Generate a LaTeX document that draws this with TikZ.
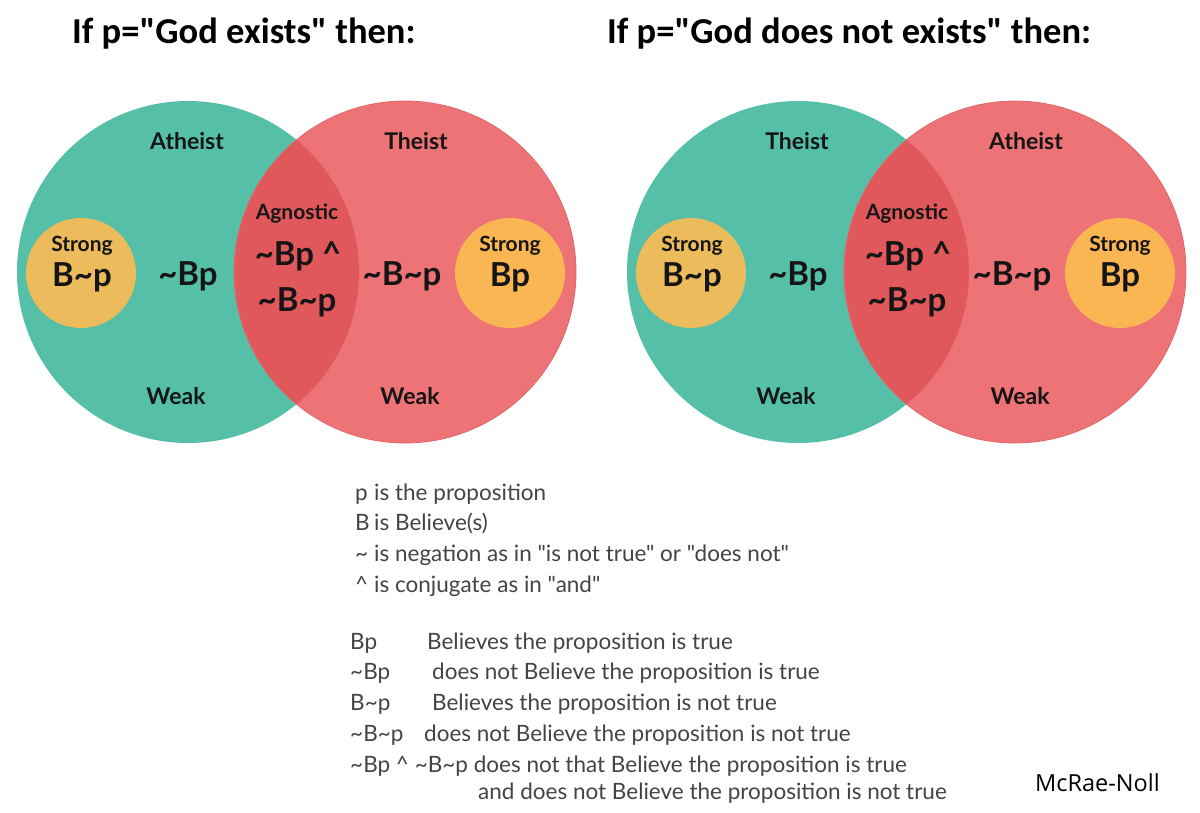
\documentclass[tikz,border=0pt]{standalone}
\usepackage{fontspec}
\setmainfont{Lato}[Ligatures=TeXOff]
\newfontfamily\titlefont{Carlito}[Ligatures=TeXOff]
\newfontfamily\signfont{Open Sans}
\newcommand\tld{\textasciitilde}
\newcommand\crt{\textasciicircum}
\definecolor{teal0}{HTML}{55BFA8}
\definecolor{red0}{HTML}{EE7376}
\definecolor{red1}{HTML}{E0585C}
\definecolor{redline}{HTML}{E2676A}
\definecolor{gold1}{HTML}{ECBB5B}
\definecolor{gold2}{HTML}{FBB654}
\definecolor{ink}{HTML}{151515}
\definecolor{legc}{HTML}{444444}
\tikzset{
  lbl/.style={font=\bfseries\fontsize{23}{27}\selectfont, text=ink, inner sep=0pt},
  sml/.style={font=\bfseries\fontsize{21}{25}\selectfont, text=ink, inner sep=0pt},
  big/.style={font=\bfseries\fontsize{33}{38}\selectfont, text=ink, inner sep=0pt},
  leg/.style={font=\fontsize{22.5}{26}\selectfont, text=legc, anchor=base west, inner sep=0pt},
  ttl/.style={font=\titlefont\bfseries\fontsize{36.5}{40}\selectfont, text=black, anchor=base west, inner sep=0pt},
}
\newcommand\venn[4]{%
\begin{scope}[xshift=#1]
  \fill[teal0] (188,272) circle [radius=171pt];
  \fill[red0] (405,272) circle [radius=171pt];
  \begin{scope}
    \clip (188,272) circle [radius=171pt];
    \fill[red1] (405,272) circle [radius=171pt];
  \end{scope}
  \draw[redline, line width=0.8pt] (405,272) circle [radius=171pt];
  \fill[gold1] (81,273) circle [radius=55pt];
  \fill[gold2] (510,273) circle [radius=55pt];
  \node[lbl] (#2-top1) at (187,141) {#3};
  \node[lbl] (#2-top2) at (416,141) {#4};
  \node[sml] (#2-agn) at (297,214) {Agnostic};
  \node[big] (#2-and1) at (298,256) {\tld Bp \crt};
  \node[big] (#2-and2) at (297,302) {\tld B\tld p};
  \node[big] (#2-nbp) at (188,276) {\tld Bp};
  \node[big] (#2-nbnp) at (402,276) {\tld B\tld p};
  \node[sml] (#2-s1) at (82,246) {Strong};
  \node[big] (#2-bnp) at (82,277) {B\tld p};
  \node[sml] (#2-s2) at (510,246) {Strong};
  \node[big] (#2-bp) at (510,277) {Bp};
  \node[lbl] (#2-w1) at (176,396) {Weak};
  \node[lbl] (#2-w2) at (410,396) {Weak};
\end{scope}}
\begin{document}
\begin{tikzpicture}[x=1pt,y=-1pt]
\useasboundingbox (0,0) rectangle (1200,812);
\fill[white] (0,0) rectangle (1200,812);
\node[ttl] (title1) at (72,43) {If p="God exists" then:};
\node[ttl] (title2) at (607,43) {If p="God does not exists" then:};
\venn{0pt}{L}{Atheist}{Theist}
\venn{610pt}{R}{Theist}{Atheist}
% legend block 1
\node[leg] (a1) at (355,500) {p};
\node[leg] (a1t) at (374,500) {is the proposition};
\node[leg] (a2) at (355,530) {B};
\node[leg] (a2t) at (374,530) {is Believe(s)};
\node[leg] (a3) at (355,561) {\tld};
\node[leg] (a3t) at (374,561) {is negation as in "is not true" or "does not"};
\node[leg] (a4) at (355,592) {\crt};
\node[leg] (a4t) at (374,592) {is conjugate as in "and"};
% legend block 2
\node[leg] (b1) at (350,649) {Bp};
\node[leg] (b1t) at (427,649) {Believes the proposition is true};
\node[leg] (b2) at (350,679) {\tld Bp};
\node[leg] (b2t) at (432,679) {does not Believe the proposition is true};
\node[leg] (b3) at (350,710) {B\tld p};
\node[leg] (b3t) at (432,710) {Believes the proposition is not true};
\node[leg] (b4) at (350,741) {\tld B\tld p};
\node[leg] (b4t) at (424,741) {does not Believe the proposition is not true};
\node[leg] (b5) at (350,772) {\tld Bp \crt{} \tld B\tld p does not that Believe the proposition is true};
\node[leg] (b6) at (478,799) {and does not Believe the proposition is not true};
\node[font=\signfont\fontsize{23.5}{27}\selectfont, anchor=base west, inner sep=0pt] (sign) at (1035,791) {McRae-Noll};
\end{tikzpicture}
\end{document}
